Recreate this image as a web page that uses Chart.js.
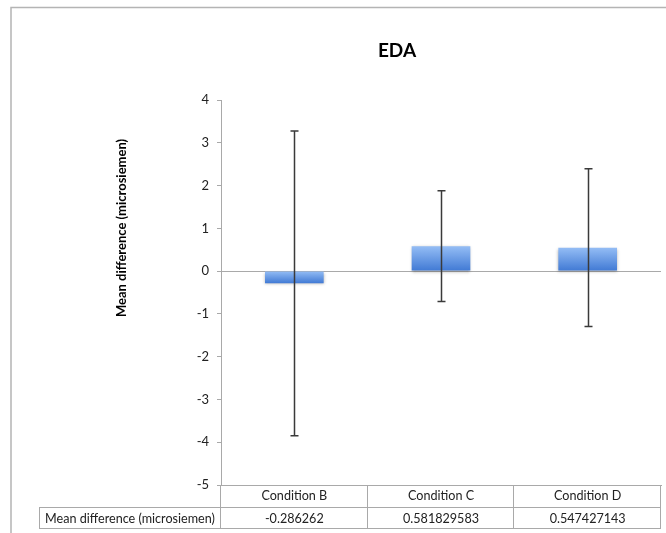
<!DOCTYPE html>
<html>
<head>
<meta charset="utf-8">
<script src="https://cdn.jsdelivr.net/npm/chart.js@4.4.1/dist/chart.umd.min.js"></script>
<style>
  html, body { margin: 0; padding: 0; background: #fff; }
  #wrap { width: 666px; height: 533px; }
</style>
</head>
<body>
<div id="wrap"><canvas id="eda-chart" width="666" height="533"></canvas></div>
<script>
let conditions = ["Condition B", "Condition C", "Condition D"];
let meanDiff = [-0.286262, 0.581829583, 0.547427143];
let errSize = [3.56, 1.295, 1.845];
let rowHeader = "Mean difference (microsiemen)";
let chartTitle = "EDA";

let lineGray = "#a9a9a9";
let fontFam = "Lato, 'Open Sans', sans-serif";

// frame, title, axis title, zero line, error bars and data table
let edaExtras = {
    id: "edaExtras",
    beforeDraw(chart) {
        let ctx = chart.ctx;
        ctx.save();
        ctx.strokeStyle = "#b4b4b4";
        ctx.lineWidth = 1.5;
        ctx.beginPath();
        ctx.moveTo(11, 533);
        ctx.lineTo(11, 7.5);
        ctx.lineTo(666, 7.5);
        ctx.stroke();

        ctx.fillStyle = "#000";
        ctx.font = "bold 19px " + fontFam;
        ctx.textAlign = "center";
        ctx.textBaseline = "middle";
        ctx.fillText(chartTitle, 397, 51);

        ctx.translate(122, 228);
        ctx.rotate(-Math.PI / 2);
        ctx.font = "bold 13px " + fontFam;
        ctx.fillText(rowHeader, 0, 0);
        ctx.restore();
    },
    beforeDatasetsDraw(chart) {
        let ctx = chart.ctx;
        let y = chart.scales.y;
        let area = chart.chartArea;
        let y0 = Math.round(y.getPixelForValue(0)) + 0.5;
        ctx.save();
        ctx.strokeStyle = lineGray;
        ctx.lineWidth = 1;
        ctx.beginPath();
        ctx.moveTo(area.left, y0);
        ctx.lineTo(area.right, y0);
        ctx.stroke();
        ctx.restore();

        ctx.save();
        ctx.shadowColor = "rgba(0,0,0,0.3)";
        ctx.shadowBlur = 3;
        ctx.shadowOffsetY = 1;
    },
    afterDatasetsDraw(chart) {
        let ctx = chart.ctx;
        ctx.restore();
        let x = chart.scales.x;
        let y = chart.scales.y;
        ctx.save();
        ctx.strokeStyle = "#3a3a3a";
        ctx.lineWidth = 1.5;
        meanDiff.forEach((v, i) => {
            let px = Math.round(x.getPixelForValue(i)) + 0.5;
            let top = y.getPixelForValue(v + errSize[i]);
            let bot = y.getPixelForValue(v - errSize[i]);
            ctx.beginPath();
            ctx.moveTo(px, top);
            ctx.lineTo(px, bot);
            ctx.moveTo(px - 4, top);
            ctx.lineTo(px + 4, top);
            ctx.moveTo(px - 4, bot);
            ctx.lineTo(px + 4, bot);
            ctx.stroke();
        });
        ctx.restore();
    },
    afterDraw(chart) {
        let ctx = chart.ctx;
        let x = chart.scales.x;
        let area = chart.chartArea;
        let colW = x.width / conditions.length;
        let rowTop = area.bottom;
        let rowMid = rowTop + 22;
        let rowBot = rowTop + 43;
        let headLeft = 39;
        ctx.save();
        ctx.strokeStyle = lineGray;
        ctx.lineWidth = 1;
        ctx.beginPath();
        ctx.moveTo(headLeft, rowMid + 0.5);
        ctx.lineTo(area.right, rowMid + 0.5);
        ctx.moveTo(headLeft, rowBot + 0.5);
        ctx.lineTo(area.right, rowBot + 0.5);
        ctx.moveTo(headLeft + 0.5, rowMid);
        ctx.lineTo(headLeft + 0.5, rowBot);
        for (let i = 0; i <= conditions.length; i++) {
            let cx = Math.round(x.left + i * colW) - 0.5;
            ctx.moveTo(cx, rowTop);
            ctx.lineTo(cx, rowBot);
        }
        ctx.stroke();

        ctx.fillStyle = "#222";
        ctx.font = "12.6px " + fontFam;
        ctx.textAlign = "center";
        ctx.textBaseline = "middle";
        ctx.fillText(rowHeader, (headLeft + x.left) / 2, (rowMid + rowBot) / 2 + 1);
        meanDiff.forEach((v, i) => {
            ctx.fillText(String(v), x.getPixelForValue(i), (rowMid + rowBot) / 2 + 1);
        });
        ctx.restore();
    }
};

function barFill(context) {
    let chart = context.chart;
    if (!chart.chartArea) return "#5b93e0";
    let y = chart.scales.y;
    let v = meanDiff[context.dataIndex];
    let a = y.getPixelForValue(Math.max(v, 0));
    let b = y.getPixelForValue(Math.min(v, 0));
    let g = chart.ctx.createLinearGradient(0, a, 0, b);
    g.addColorStop(0, "#94bdf5");
    g.addColorStop(1, "#4079d4");
    return g;
}

let edaChart = new Chart(document.getElementById("eda-chart").getContext("2d"), {
    type: "bar",
    data: {
        labels: conditions,
        datasets: [{
            label: rowHeader,
            data: meanDiff,
            backgroundColor: barFill,
            borderWidth: 0,
            barPercentage: 0.4,
            categoryPercentage: 1.0
        }]
    },
    options: {
        responsive: false,
        animation: false,
        layout: { padding: { left: 112, top: 100, right: 5, bottom: 0 } },
        plugins: {
            legend: { display: false },
            title: { display: false },
            tooltip: { enabled: false }
        },
        scales: {
            x: {
                afterFit(scale) { scale.height = 48; },
                grid: { display: false, drawTicks: false },
                border: { display: true, color: lineGray, width: 1 },
                ticks: { padding: 3, color: "#222", font: { family: fontFam, size: 12.6 } }
            },
            y: {
                min: -5,
                max: 4,
                afterFit(scale) { scale.width = 109; },
                grid: { drawOnChartArea: false, drawTicks: true, tickLength: 4, color: lineGray },
                border: { display: true, color: lineGray, width: 1 },
                ticks: { stepSize: 1, padding: 8, color: "#222", font: { family: fontFam, size: 13 } }
            }
        }
    },
    plugins: [edaExtras]
});
</script>
</body>
</html>
